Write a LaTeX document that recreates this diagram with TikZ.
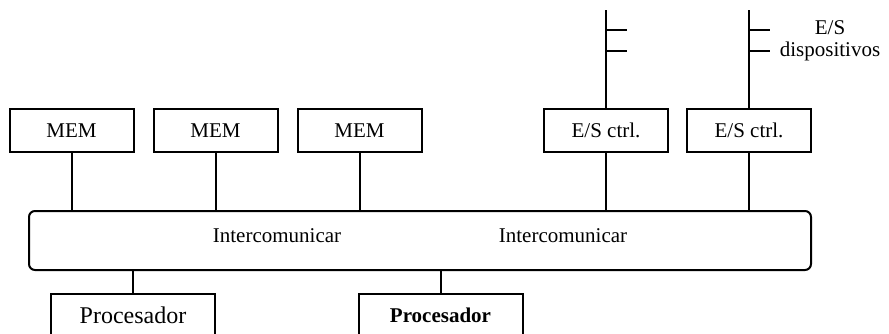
\documentclass[tikz,border=0pt]{standalone}
\usepackage{fontspec}
\setmainfont{Liberation Serif}
\begin{document}
\begin{tikzpicture}[x=0.5pt,y=-0.5pt,line width=1pt,
        box/.style={draw, minimum width=62pt, minimum height=21.5pt, inner sep=0pt, font=\fontsize{10.5}{12}\selectfont},
        procbox/.style={box, minimum width=82pt},
        lbl/.style={font=\fontsize{10.5}{11}\selectfont}]
    \useasboundingbox (0,0) rectangle (889,333);
    \clip (0,0) rectangle (889,333);

    \node[box] (mem1) at (71.5,130.5) {MEM};
    \node[box] (mem2) at (215.5,130.5) {MEM};
    \node[box] (mem3) at (359.5,130.5) {MEM};
    \node[box] (es1) at (606,130.5) {E/S ctrl.};
    \node[box] (es2) at (749,130.5) {E/S ctrl.};

    \node[draw, rounded corners=3pt, minimum width=391pt, minimum height=29.5pt] (bus) at (420,240.5) {};
    \node[lbl] (ic1) at (277,236) {Intercomunicar};
    \node[lbl] (ic2) at (563,236) {Intercomunicar};

    \node[procbox, font=\fontsize{12}{14}\selectfont] (proc1) at (133,315.5) {Procesador};
    \node[procbox, font=\bfseries\fontsize{10.5}{12}\selectfont] (proc2) at (440.5,315.5) {Procesador};

    \foreach \n in {mem1,mem2,mem3,es1,es2}
        \draw (\n.south) -- (\n.south |- bus.north);
    \foreach \n in {proc1,proc2}
        \draw (\n.north) -- (\n.north |- bus.south);

    % lineas de E/S
    \coordinate (top1) at (606,10);
    \coordinate (top2) at (749,10);
    \draw (es1.north) -- (top1);
    \draw (es2.north) -- (top2);
    \foreach \t in {top1,top2}
        \foreach \dy in {20,41}
            \draw (\t) ++(0,\dy) -- ++(21,0);

    \node[lbl, align=center] (dev) at (830,41) {E/S\\dispositivos};
\end{tikzpicture}
\end{document}
